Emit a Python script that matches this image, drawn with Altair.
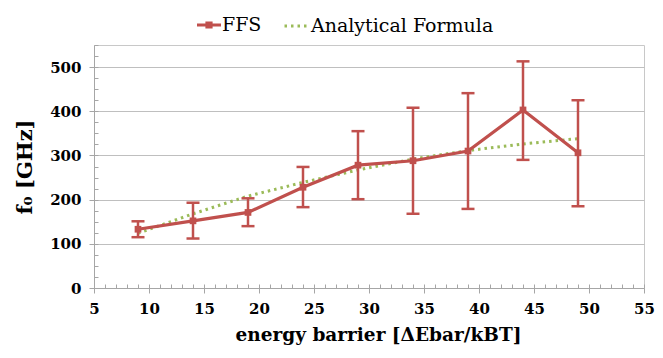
import altair as alt
import pandas as pd

barrier = [9, 14, 19, 24, 29, 34, 39, 44, 49]
ffs = [133, 152, 171, 228, 278, 288, 310, 403, 306]
err_hi = [151, 193, 203, 274, 355, 408, 441, 513, 425]
err_lo = [115, 112, 140, 183, 201, 168, 179, 290, 185]
analytical = [124, 168, 208, 239, 267, 292, 311, 326, 338]

x_major = list(range(5, 56, 5))
x_minor = list(range(5, 56, 1))
y_major = list(range(0, 501, 100))
y_minor = list(range(0, 551, 25))

df = pd.DataFrame({
    "barrier": barrier,
    "ffs": ffs,
    "hi": err_hi,
    "lo": err_lo,
    "analytical": analytical,
})
df["s1"] = "FFS"
df["s2"] = "Analytical Formula"

RED = "#C0504D"
GREEN = "#9BBB59"
FONT = "DejaVu Serif"
GRAY = "#a6a6a6"

xs = alt.Scale(domain=[5, 55], nice=False, zero=False)
ys = alt.Scale(domain=[0, 550], nice=False)

minor_x = alt.Axis(values=x_minor, labels=False, domain=False, grid=False,
                   tickSize=4, offset=-4, title=None, orient="bottom",
                   tickColor=GRAY, tickWidth=1)
minor_y = alt.Axis(values=y_minor, labels=False, domain=False, grid=False,
                   tickSize=4, offset=-4, title=None, orient="left",
                   tickColor=GRAY, tickWidth=1)
major_x = alt.Axis(values=x_major, grid=False, tickSize=5, tickColor=GRAY,
                   domainColor=GRAY, labelFont=FONT, labelFontSize=15,
                   labelFontWeight="bold", labelColor="black", labelPadding=8,
                   title="energy barrier [ΔEbar/kBT]", titleFont=FONT,
                   titleFontSize=18.5, titleFontWeight="bold", titleColor="black",
                   titlePadding=9, titleX=284, orient="bottom", labelFlush=False)
major_y = alt.Axis(values=y_major, grid=True, gridColor="#bfbfbf", tickSize=5,
                   tickColor=GRAY, domainColor=GRAY, labelFont=FONT,
                   labelFontSize=15, labelFontWeight="bold", labelColor="black",
                   labelPadding=8, title="f₀ [GHz]", titleFont=FONT,
                   titleFontSize=21, titleFontWeight="bold", titleColor="black",
                   titlePadding=14, orient="left")

base = alt.Chart(df)

line_an = base.mark_line(color=GREEN, strokeWidth=3).encode(
    x=alt.X("barrier:Q", scale=xs, axis=minor_x),
    y=alt.Y("analytical:Q", scale=ys, axis=minor_y),
    strokeDash=alt.StrokeDash(
        "s2:N",
        scale=alt.Scale(domain=["Analytical Formula"], range=[[2.5, 4]]),
        legend=alt.Legend(title=None, orient="none", legendX=189, legendY=-32,
                          symbolType="stroke", symbolSize=529,
                          symbolStrokeWidth=3, symbolStrokeColor=GREEN,
                          labelFont=FONT, labelFontSize=19, labelColor="black",
                          labelOffset=2, padding=0, labelLimit=400),
    ),
)

rules = base.mark_rule(color=RED, strokeWidth=2.5).encode(
    x=alt.X("barrier:Q", scale=xs, axis=None),
    y=alt.Y("lo:Q", scale=ys, axis=None),
    y2="hi:Q",
)

cap_hi = base.mark_tick(color=RED, orient="horizontal", size=13,
                        thickness=2.5, opacity=1).encode(
    x=alt.X("barrier:Q", scale=xs, axis=None),
    y=alt.Y("hi:Q", scale=ys, axis=None),
)
cap_lo = base.mark_tick(color=RED, orient="horizontal", size=13,
                        thickness=2.5, opacity=1).encode(
    x=alt.X("barrier:Q", scale=xs, axis=None),
    y=alt.Y("lo:Q", scale=ys, axis=None),
)

line_ffs = base.mark_line(color=RED, strokeWidth=3.2).encode(
    x=alt.X("barrier:Q", scale=xs, axis=major_x),
    y=alt.Y("ffs:Q", scale=ys, axis=major_y),
)

points = base.mark_square(size=45, filled=True, opacity=1).encode(
    x=alt.X("barrier:Q", scale=xs, axis=None),
    y=alt.Y("ffs:Q", scale=ys, axis=None),
    color=alt.Color(
        "s1:N",
        scale=alt.Scale(domain=["FFS"], range=[RED]),
        legend=alt.Legend(title=None, orient="none", legendX=103, legendY=-32,
                          symbolType="M-1,-0.12H1V0.12H-1Z M-0.3,-0.3H0.3V0.3H-0.3Z",
                          symbolSize=576, symbolStrokeWidth=0,
                          labelFont=FONT, labelFontSize=19, labelColor="black",
                          labelOffset=1, padding=0, labelLimit=400),
    ),
)

chart = alt.layer(line_an, rules, cap_hi, cap_lo, line_ffs, points).resolve_axis(
    x="independent", y="independent"
).resolve_legend(color="independent", strokeDash="independent").properties(
    width=550,
    height=243,
    autosize=alt.AutoSizeParams(type="none"),
    padding={"left": 86, "top": 37, "right": 11, "bottom": 62},
    background="white",
).configure_view(stroke="#c8c8c8", strokeWidth=1)

chart.save("out.html", embed_options={"renderer": "svg", "actions": False})
